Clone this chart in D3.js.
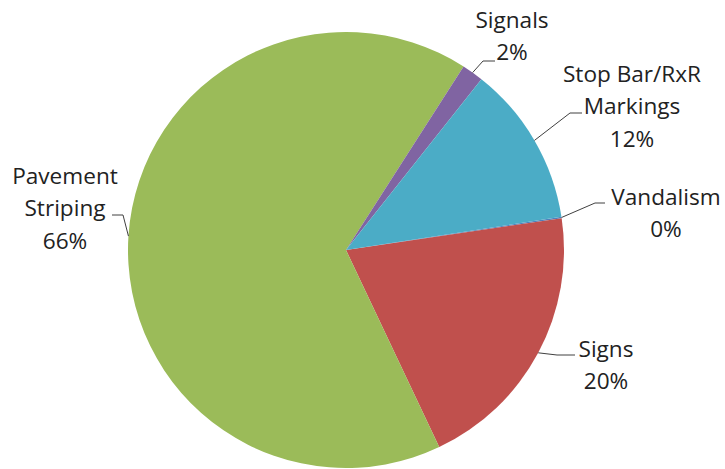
<!DOCTYPE html>
<html>
<head>
<meta charset="utf-8">
<script src="https://cdn.jsdelivr.net/npm/d3@7"></script>
<style>
	html, body { margin: 0; padding: 0; background: #fff; }
	svg { display: block; }
</style>
</head>
<body>
<div id="chart"></div>
<script>
// data, in the order Excel drew it (clockwise from the first slice)
const categories = ['Vandalism', 'Signs', 'Pavement Striping', 'Signals', 'Stop Bar/RxR Markings'];
const shares = [0.1, 20.3, 66.1, 1.6, 11.9];
const nameLines = [['Vandalism'], ['Signs'], ['Pavement', 'Striping'], ['Signals'], ['Stop Bar/RxR', 'Markings']];
const colors = ['#4F81BD', '#C0504D', '#9BBB59', '#8064A2', '#4BACC6'];

// label placement: centre x, first baseline, leader elbow, leader end
const labelX = [666, 606, 65, 512, 632];
const labelY = [205, 357, 184, 28, 82];
const elbow = [[595, 203], [557, 355], [123, 215], [483, 61], [570, 113]];
const leaderEnd = [[605, 203], [575, 355], [112, 215], [495, 61], [582, 113]];

const width = 725,
	height = 469,
	cx = 346,
	cy = 250,
	radius = 218,
	lineGap = 32.3;

const data = categories.map((c, i) => ({ name: c, value: shares[i], i: i }));
const total = d3.sum(shares);
const pct = d3.format('.0%');

const svg = d3
	.select('#chart')
	.append('svg')
	.attr('width', width)
	.attr('height', height);

const g = svg.append('g').attr('transform', 'translate(' + cx + ',' + cy + ')');

const start = (81.24 * Math.PI) / 180;
const pie = d3
	.pie()
	.sort(null)
	.value(d => d.value)
	.startAngle(start)
	.endAngle(start + 2 * Math.PI);

const arc = d3.arc().innerRadius(0).outerRadius(radius);
const edge = d3.arc().innerRadius(radius).outerRadius(radius);

const arcs = pie(data);

g.selectAll('path.slice')
	.data(arcs)
	.enter()
	.append('path')
	.attr('class', 'slice')
	.attr('d', arc)
	.attr('fill', d => colors[d.data.i]);

// leader lines
svg
	.append('g')
	.selectAll('polyline')
	.data(arcs)
	.enter()
	.append('polyline')
	.attr('fill', 'none')
	.attr('stroke', '#404040')
	.attr('stroke-width', 1)
	.attr('points', d => {
		const p = edge.centroid(d);
		const i = d.data.i;
		return [[cx + p[0], cy + p[1]], elbow[i], leaderEnd[i]].map(q => q.join(',')).join(' ');
	});

// labels
const labels = svg
	.append('g')
	.attr('font-family', "'Open Sans', 'Noto Sans', sans-serif")
	.attr('font-size', 22.6)
	.attr('fill', '#222')
	.attr('text-anchor', 'middle')
	.selectAll('text')
	.data(arcs)
	.enter()
	.append('text')
	.attr('x', d => labelX[d.data.i])
	.attr('y', d => labelY[d.data.i]);

labels
	.selectAll('tspan')
	.data(d => nameLines[d.data.i].concat([pct(d.data.value / total)]))
	.enter()
	.append('tspan')
	.attr('x', function () {
		return this.parentNode.getAttribute('x');
	})
	.attr('dy', (d, j) => (j === 0 ? 0 : lineGap))
	.text(d => d);
</script>
</body>
</html>
